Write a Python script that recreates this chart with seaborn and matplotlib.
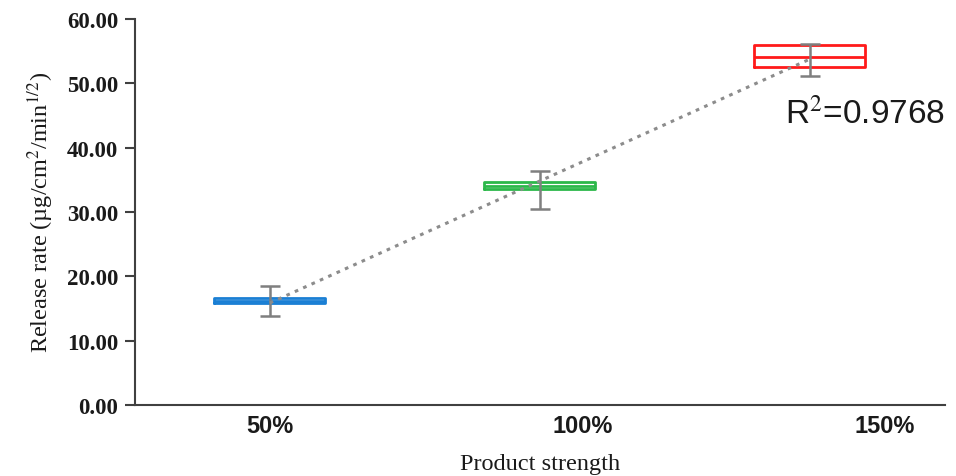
import numpy as np
import pandas as pd
import seaborn as sns
import matplotlib.pyplot as plt

# ----------- Data ----------------------------------------

categories = ["50%", "100%", "150%"]
box_low = [15.9, 33.6, 52.6]
box_med = [16.2, 34.1, 54.1]
box_high = [16.6, 34.7, 56.0]
err_low = [13.8, 30.5, 51.2]
err_high = [18.5, 36.4, 56.1]
r2_label = "R$^2$=0.9768"

box_colors = ["#1a7fd4", "#2cb84a", "#ff1a1a"]

# long form table: q1, q1, median, q3, q3 gives exactly those quartiles
rows = []
for cat, lo, med, hi in zip(categories, box_low, box_med, box_high):
    for v in [lo, lo, med, hi, hi]:
        rows.append({"strength": cat, "rate": v})
df = pd.DataFrame(rows)

# ----------- Plot ---------------------

sns.set_style("white")
plt.rcParams["mathtext.fontset"] = "stix"

fig = plt.figure(figsize=(9.56, 4.77), dpi=100)
ax = fig.add_axes([0.141, 0.149, 0.847, 0.809])

sns.boxplot(data=df, x="strength", y="rate", hue="strength", order=categories,
            hue_order=categories, palette=box_colors, fill=False, whis=0,
            showcaps=False, showfliers=False, width=0.41, linewidth=2,
            legend=False, ax=ax)

# grey error bars through the box centres
pos = np.arange(len(categories))
med = np.array(box_med)
ax.errorbar(pos, med, yerr=[med - np.array(err_low), np.array(err_high) - med],
            fmt="none", ecolor="#7f7f7f", elinewidth=1.8, capsize=7, capthick=1.8,
            zorder=3)

# linear trend through the medians
slope, icept = np.polyfit(pos, med, 1)
xs = np.array([pos[0], pos[-1]])
ax.plot(xs, slope * xs + icept, linestyle=(0, (1.2, 1.8)), color="#8c8c8c",
        linewidth=2.2, zorder=4)

ax.text(1.91, 45.4, r2_label, fontsize=24, family="Liberation Sans",
        va="center", ha="left", color="#1a1a1a")

ax.set_xlim(-0.5, 2.5)
ax.set_ylim(0, 60)
ax.set_yticks(np.arange(0, 61, 10))
ax.set_yticklabels(["%.2f" % v for v in np.arange(0, 61, 10)],
                   family="Liberation Serif", fontweight="bold", fontsize=16.5,
                   color="#1a1a1a")
ax.set_xticks([0, 1.16, 2.28])
ax.set_xticklabels(categories, family="Liberation Sans", fontweight="bold",
                   fontsize=17, color="#1a1a1a")
ax.tick_params(axis="y", left=True, length=7, width=1.5, color="#404040", pad=5)
ax.tick_params(axis="x", bottom=False, pad=3)

for side in ["top", "right"]:
    ax.spines[side].set_visible(False)
for side in ["left", "bottom"]:
    ax.spines[side].set_color("#404040")
    ax.spines[side].set_linewidth(1.5)

ax.set_xlabel("Product strength", family="Liberation Serif", fontsize=17.5,
              labelpad=11.5, color="#1a1a1a")
ax.set_ylabel("Release rate (µg/cm$^{2}$/min$^{1/2}$)", family="Liberation Serif",
              fontsize=17.5, labelpad=8, color="#1a1a1a")

fig.savefig("out.png", dpi=100)
